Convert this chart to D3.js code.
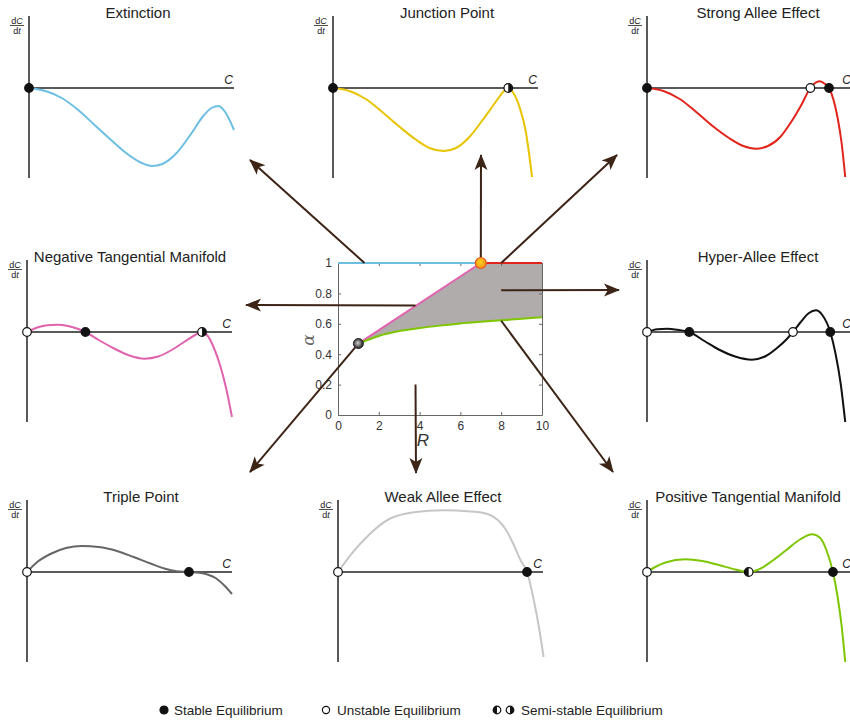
<!DOCTYPE html>
<html>
<head>
<meta charset="utf-8">
<script src="https://cdn.jsdelivr.net/npm/d3@7"></script>
<style>
body { margin: 0; background: #fff; }
svg { font-family: "Liberation Sans", Arial, sans-serif; }
</style>
</head>
<body>
<svg id="chart" width="850" height="720"></svg>
<script>
// phase portraits, [C, dC/dt]
var extinctionCurve = [[0,0],[0.8,-0.3],[1.6,-1.0],[2.4,-2.2],[3.2,-3.7],[4.0,-5.2],[4.8,-6.6],[5.5,-7.5],[6.0,-7.8],[6.5,-7.6],[7.2,-6.5],[7.9,-4.6],[8.5,-2.8],[8.9,-2.0],[9.25,-1.8],[9.6,-2.5],[10,-4.2]];
var junctionCurve = [[0,0],[0.8,-0.3],[1.6,-1.1],[2.4,-2.4],[3.2,-3.8],[4.0,-5.1],[4.7,-6.0],[5.4,-6.3],[6.0,-6.0],[6.7,-4.8],[7.3,-3.2],[7.9,-1.5],[8.3,-0.4],[8.55,0],[8.8,-0.5],[9.1,-1.9],[9.4,-4.3],[9.71,-8.9]];
var strongCurve = [[0,0],[0.8,-0.3],[1.6,-1.1],[2.4,-2.4],[3.2,-3.8],[4.0,-5.0],[4.7,-5.8],[5.3,-6.07],[5.9,-5.8],[6.5,-4.9],[7.0,-3.5],[7.5,-1.8],[7.97,0],[8.2,0.5],[8.42,0.67],[8.65,0.45],[8.88,0],[9.1,-1.2],[9.3,-3.0],[9.5,-5.6],[9.67,-8.9]];
var negativeCurve = [[0,0],[0.5,0.45],[1.0,0.68],[1.46,0.73],[2.0,0.6],[2.5,0.3],[2.85,0],[3.5,-0.8],[4.2,-1.6],[5.0,-2.35],[5.72,-2.67],[6.4,-2.45],[7.1,-1.75],[7.7,-0.95],[8.2,-0.3],[8.54,0],[8.8,-0.35],[9.1,-1.5],[9.4,-3.2],[9.7,-5.5],[10.0,-8.5]];
var hyperCurve = [[0,0],[0.5,0.28],[0.98,0.33],[1.5,0.22],[2.06,0],[2.8,-0.9],[3.5,-1.75],[4.3,-2.45],[5.12,-2.77],[5.8,-2.4],[6.4,-1.5],[6.8,-0.75],[7.12,0],[7.5,1.0],[7.9,1.9],[8.24,2.17],[8.55,1.7],[8.94,0],[9.2,-2.2],[9.45,-5.2],[9.67,-9.0]];
var tripleCurve = [[0,0],[0.5,1.0],[1.14,1.8],[1.9,2.4],[2.68,2.6],[3.5,2.5],[4.39,2.1],[5.2,1.5],[6.02,0.85],[6.7,0.35],[7.3,0.08],[7.9,0],[8.4,-0.08],[8.8,-0.25],[9.2,-0.6],[9.6,-1.3],[10,-2.2]];
var weakCurve = [[0,0],[0.6,1.67],[1.4,3.5],[2.5,5.3],[3.8,6.0],[5.1,6.17],[6.5,6.05],[7.3,5.8],[7.8,5.2],[8.2,4.2],[8.6,2.6],[8.9,1.2],[9.22,0],[9.55,-2.8],[9.8,-5.5],[10.03,-8.5]];
var positiveCurve = [[0,0],[0.4,0.5],[0.9,0.95],[1.87,1.27],[2.7,1.1],[3.5,0.7],[4.3,0.25],[4.96,0],[5.5,0.3],[6.1,1.1],[6.8,2.2],[7.5,3.3],[8.05,3.77],[8.45,3.4],[8.75,2.2],[9.07,0],[9.3,-2.5],[9.5,-5.5],[9.67,-9.0]];

// equilibria: [C, kind]
var extinctionEq = [[0,"stable"]];
var junctionEq = [[0,"stable"],[8.55,"semiRight"]];
var strongEq = [[0,"stable"],[7.97,"unstable"],[8.88,"stable"]];
var negativeEq = [[0,"unstable"],[2.85,"stable"],[8.54,"semiRight"]];
var hyperEq = [[0,"unstable"],[2.06,"stable"],[7.12,"unstable"],[8.94,"stable"]];
var tripleEq = [[0,"unstable"],[7.9,"stable"]];
var weakEq = [[0,"unstable"],[9.22,"stable"]];
var positiveEq = [[0,"unstable"],[4.96,"semiLeft"],[9.07,"stable"]];

var panelTitles = ["Extinction", "Junction Point", "Strong Allee Effect", "Negative Tangential Manifold",
    "Hyper-Allee Effect", "Triple Point", "Weak Allee Effect", "Positive Tangential Manifold"];
var panelColors = ["#6cbfe2", "#e8c400", "#e2251c", "#e063ae", "#111111", "#666666", "#c6c6c6", "#7ec600"];
var panelCurves = [extinctionCurve, junctionCurve, strongCurve, negativeCurve, hyperCurve, tripleCurve, weakCurve, positiveCurve];
var panelEquilibria = [extinctionEq, junctionEq, strongEq, negativeEq, hyperEq, tripleEq, weakEq, positiveEq];

// centre chart (R, alpha)
var rTicks = [0, 2, 4, 6, 8, 10];
var alphaTicks = [0, 0.2, 0.4, 0.6, 0.8, 1];
var extinctionEdge = [[0, 1], [7, 1]];
var strongEdge = [[7, 1], [10, 1]];
var negativeEdge = [[1, 0.47], [7, 1]];
var positiveEdge = [[1, 0.47], [2, 0.52], [3, 0.552], [4, 0.572], [5, 0.588], [6, 0.602], [7, 0.613], [8, 0.623], [9, 0.633], [10, 0.643]];
var triplePoint = [1, 0.47];
var junctionPoint = [7, 1];

var legendLabels = ["Stable Equilibrium", "Unstable Equilibrium", "Semi-stable Equilibrium"];

// layout
var panelPos = [
    {x: 29, y: 88, tx: 138}, {x: 333, y: 88, tx: 447}, {x: 647, y: 88, tx: 758},
    {x: 27, y: 332, tx: 130}, {x: 647, y: 332, tx: 758},
    {x: 27, y: 572, tx: 141}, {x: 338, y: 572, tx: 443}, {x: 647, y: 572, tx: 748}
];
// arrow start in (R, alpha), tip in pixels, same order as the panels
var arrowStarts = [[1.3, 1], [7, 1], [8, 1], [3.8, 0.72], [8, 0.82], [1, 0.47], [3.8, 0.2], [8, 0.62]];
var arrowTips = [[250, 160], [481, 155], [617, 155], [246, 305], [619, 290], [250, 472], [416, 473], [613, 472]];

var svg = d3.select("#chart");
var arrowColor = "#3c2416";

var defs = svg.append("defs");
defs.append("marker")
    .attr("id", "head")
    .attr("markerUnits", "userSpaceOnUse")
    .attr("viewBox", "-2 -8 20 16")
    .attr("refX", 15).attr("refY", 0)
    .attr("markerWidth", 20).attr("markerHeight", 16)
    .attr("orient", "auto")
    .append("path")
    .attr("d", "M0,-6.5L16,0L0,6.5L4,0Z")
    .attr("fill", arrowColor);

var g1 = defs.append("radialGradient").attr("id", "gBlack").attr("cx", "45%").attr("cy", "45%").attr("r", "55%");
g1.append("stop").attr("offset", "0%").attr("stop-color", "#d0d0d0");
g1.append("stop").attr("offset", "100%").attr("stop-color", "#1a1a1a");
var g2 = defs.append("radialGradient").attr("id", "gOrange").attr("cx", "45%").attr("cy", "45%").attr("r", "55%");
g2.append("stop").attr("offset", "0%").attr("stop-color", "#ffd21a");
g2.append("stop").attr("offset", "100%").attr("stop-color", "#f39020");

// small phase portraits
var xC = d3.scaleLinear().domain([0, 10]).range([0, 205]);
var yV = d3.scaleLinear().domain([-9, 7.2]).range([90, -72]);
var curveLine = d3.line()
    .x(function (d) { return xC(d[0]); })
    .y(function (d) { return yV(d[1]); })
    .curve(d3.curveMonotoneX);

function drawMarker(g, cx, kind, r) {
    var m = g.append("g").attr("transform", "translate(" + cx + ",0)");
    m.append("circle").attr("r", r)
        .attr("fill", kind === "stable" ? "#111" : "#fff")
        .attr("stroke", "#111").attr("stroke-width", 1.2);
    if (kind === "semiRight" || kind === "semiLeft") {
        var sweep = kind === "semiRight" ? 1 : 0;
        m.append("path")
            .attr("d", "M0," + (-r) + "A" + r + "," + r + " 0 0 " + sweep + " 0," + r + "Z")
            .attr("fill", "#111");
    }
}

panelPos.forEach(function (p, i) {
    var g = svg.append("g").attr("transform", "translate(" + p.x + "," + p.y + ")");

    g.append("line").attr("x1", 0).attr("x2", 0).attr("y1", yV.range()[1]).attr("y2", yV.range()[0])
        .attr("stroke", "#222").attr("stroke-width", 1.5);
    g.append("line").attr("x1", 0).attr("x2", xC.range()[1]).attr("y1", yV(0)).attr("y2", yV(0))
        .attr("stroke", "#222").attr("stroke-width", 1.5);

    g.append("path").datum(panelCurves[i])
        .attr("d", curveLine)
        .attr("fill", "none")
        .attr("stroke", panelColors[i])
        .attr("stroke-width", 2);

    panelEquilibria[i].forEach(function (e) {
        drawMarker(g, xC(e[0]), e[1], 4.3);
    });

    g.append("text")
        .attr("x", p.tx - p.x).attr("y", -70)
        .attr("text-anchor", "middle")
        .attr("font-size", 15)
        .attr("fill", "#222")
        .text(panelTitles[i]);

    g.append("text")
        .attr("x", xC.range()[1] - 1).attr("y", -4)
        .attr("text-anchor", "end")
        .attr("font-size", 12).attr("font-style", "italic")
        .attr("fill", "#222")
        .text("C");

    // dC/dt fraction
    var fr = g.append("g").attr("transform", "translate(-12,-72)").attr("fill", "#222").attr("font-size", 9);
    var num = fr.append("text").attr("y", 7.5).attr("text-anchor", "middle");
    num.append("tspan").text("d");
    num.append("tspan").attr("font-style", "italic").text("C");
    fr.append("line").attr("x1", -7).attr("x2", 7).attr("y1", 9.5).attr("y2", 9.5)
        .attr("stroke", "#222").attr("stroke-width", 0.8);
    var den = fr.append("text").attr("y", 18).attr("text-anchor", "middle");
    den.append("tspan").text("d");
    den.append("tspan").attr("font-style", "italic").text("t");
});

// centre parameter chart
var xR = d3.scaleLinear().domain([0, 10]).range([338, 542]);
var yA = d3.scaleLinear().domain([0, 1]).range([415, 263]);
var edgeLine = d3.line()
    .x(function (d) { return xR(d[0]); })
    .y(function (d) { return yA(d[1]); });
var smoothEdge = d3.line()
    .x(function (d) { return xR(d[0]); })
    .y(function (d) { return yA(d[1]); })
    .curve(d3.curveMonotoneX);

var c = svg.append("g");

// grey region between the green edge and the upper boundary
c.append("path")
    .attr("d", smoothEdge(positiveEdge) +
        "L" + xR(strongEdge[1][0]) + "," + yA(strongEdge[1][1]) +
        "L" + xR(strongEdge[0][0]) + "," + yA(strongEdge[0][1]) +
        "L" + xR(negativeEdge[0][0]) + "," + yA(negativeEdge[0][1]) + "Z")
    .attr("fill", "#b0acac");

var axB = d3.axisBottom(xR).tickValues(rTicks).tickSizeInner(-3).tickSizeOuter(0).tickPadding(6);
var axL = d3.axisLeft(yA).tickValues(alphaTicks).tickSizeInner(-3).tickSizeOuter(0).tickPadding(6)
    .tickFormat(function (d) { return d; });
var axT = d3.axisTop(xR).tickValues(rTicks).tickSizeInner(-3).tickSizeOuter(0).tickFormat("");
var axR = d3.axisRight(yA).tickValues(alphaTicks).tickSizeInner(-3).tickSizeOuter(0).tickFormat("");

[[axB, "translate(0,415)"], [axL, "translate(338,0)"], [axT, "translate(0,263)"], [axR, "translate(542,0)"]].forEach(function (a) {
    var ga = c.append("g").attr("transform", a[1]).call(a[0]);
    ga.selectAll("path, line").attr("stroke", "#666");
    ga.selectAll("text").attr("font-size", 12).attr("fill", "#333").attr("font-family", "Liberation Sans, Arial, sans-serif");
});

c.append("path").attr("d", edgeLine(extinctionEdge)).attr("stroke", panelColors[0]).attr("stroke-width", 2).attr("fill", "none");
c.append("path").attr("d", edgeLine(strongEdge)).attr("stroke", panelColors[2]).attr("stroke-width", 2).attr("fill", "none");
c.append("path").attr("d", edgeLine(negativeEdge)).attr("stroke", panelColors[3]).attr("stroke-width", 2).attr("fill", "none");
c.append("path").attr("d", smoothEdge(positiveEdge)).attr("stroke", panelColors[7]).attr("stroke-width", 2).attr("fill", "none");

c.append("text").attr("x", 423).attr("y", 446).attr("text-anchor", "middle")
    .attr("font-size", 17).attr("font-style", "italic").attr("fill", "#333").text("R");
c.append("text").attr("transform", "translate(314,340) rotate(-90)").attr("text-anchor", "middle")
    .attr("font-size", 17).attr("font-style", "italic").attr("font-family", "DejaVu Serif, serif").attr("fill", "#666").text("α");

// arrows
arrowStarts.forEach(function (s, i) {
    svg.append("line")
        .attr("x1", xR(s[0])).attr("y1", yA(s[1]))
        .attr("x2", arrowTips[i][0]).attr("y2", arrowTips[i][1])
        .attr("stroke", arrowColor).attr("stroke-width", 2)
        .attr("marker-end", "url(#head)");
});

svg.append("circle").attr("cx", xR(triplePoint[0])).attr("cy", yA(triplePoint[1])).attr("r", 5)
    .attr("fill", "url(#gBlack)").attr("stroke", "#222").attr("stroke-width", 1);
svg.append("circle").attr("cx", xR(junctionPoint[0])).attr("cy", yA(junctionPoint[1])).attr("r", 5.5)
    .attr("fill", "url(#gOrange)").attr("stroke", "#e8561c").attr("stroke-width", 1.2);

// legend
var lg = svg.append("g").attr("transform", "translate(0,710)");
drawMarker(lg, 164, "stable", 4);
lg.append("text").attr("x", 174).attr("y", 5).attr("font-size", 13.5).attr("fill", "#222").text(legendLabels[0]);
drawMarker(lg, 326, "unstable", 3.6);
lg.append("text").attr("x", 337).attr("y", 5).attr("font-size", 13.5).attr("fill", "#222").text(legendLabels[1]);
drawMarker(lg, 497, "semiLeft", 3.8);
drawMarker(lg, 510, "semiRight", 3.8);
lg.append("text").attr("x", 521).attr("y", 5).attr("font-size", 13.5).attr("fill", "#222").text(legendLabels[2]);
</script>
</body>
</html>
